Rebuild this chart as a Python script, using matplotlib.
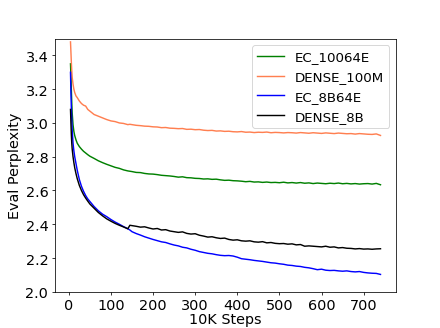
import matplotlib
matplotlib.use("Agg")
import matplotlib.pyplot as plt

# x positions (units of 10K steps)
steps = [4, 5, 6, 7, 8, 10, 12, 14, 17, 20, 25, 30, 35, 40, 45, 50,
         60, 70, 80, 90, 100, 110, 120, 130, 140, 145] + list(range(150, 741, 10))

ec_10064e = [3.35, 3.28, 3.20, 3.12, 3.06, 2.99, 2.95, 2.925, 2.90, 2.88, 2.86, 2.845, 2.832, 2.822, 2.812, 2.803,
             2.79, 2.776, 2.765, 2.755, 2.746, 2.737, 2.731, 2.722, 2.716, 2.714,
             2.712, 2.707, 2.706, 2.701, 2.698, 2.697, 2.694, 2.69, 2.688, 2.686,
             2.683, 2.679, 2.681, 2.676, 2.675, 2.672, 2.671, 2.668, 2.669, 2.666,
             2.667, 2.663, 2.66, 2.661, 2.658, 2.657, 2.655, 2.652, 2.654, 2.65,
             2.651, 2.648, 2.65, 2.647, 2.648, 2.646, 2.649, 2.645, 2.647, 2.644,
             2.647, 2.643, 2.645, 2.641, 2.644, 2.642, 2.64, 2.643, 2.641, 2.644,
             2.64, 2.642, 2.639, 2.641, 2.638, 2.64, 2.641, 2.638, 2.642, 2.634]

dense_100m = [3.48, 3.42, 3.36, 3.31, 3.27, 3.23, 3.20, 3.18, 3.16, 3.15, 3.13, 3.115, 3.105, 3.10, 3.08, 3.07,
              3.05, 3.04, 3.03, 3.02, 3.012, 3.008, 3.00, 2.997, 2.99, 2.992,
              2.99, 2.986, 2.984, 2.981, 2.98, 2.977, 2.976, 2.972, 2.973, 2.969,
              2.968, 2.966, 2.967, 2.962, 2.963, 2.96, 2.961, 2.957, 2.955, 2.956,
              2.952, 2.953, 2.95, 2.951, 2.948, 2.947, 2.949, 2.945, 2.946, 2.943,
              2.945, 2.944, 2.946, 2.942, 2.944, 2.943, 2.941, 2.943, 2.942, 2.940,
              2.943, 2.941, 2.939, 2.942, 2.940, 2.938, 2.941, 2.939, 2.937, 2.94,
              2.938, 2.936, 2.937, 2.934, 2.937, 2.935, 2.933, 2.932, 2.935, 2.926]

ec_8b64e = [3.30, 3.18, 3.09, 3.02, 2.96, 2.88, 2.835, 2.80, 2.76, 2.72, 2.665, 2.625, 2.595, 2.57, 2.55, 2.535,
            2.505, 2.48, 2.46, 2.445, 2.428, 2.413, 2.40, 2.386, 2.374, 2.366,
            2.356, 2.345, 2.336, 2.326, 2.318, 2.31, 2.303, 2.296, 2.292, 2.284,
            2.277, 2.272, 2.264, 2.26, 2.252, 2.246, 2.238, 2.233, 2.228, 2.225,
            2.22, 2.216, 2.214, 2.215, 2.212, 2.205, 2.196, 2.193, 2.19, 2.186,
            2.183, 2.18, 2.176, 2.172, 2.17, 2.166, 2.163, 2.158, 2.156, 2.152,
            2.15, 2.145, 2.142, 2.137, 2.131, 2.134, 2.128, 2.126, 2.127, 2.124,
            2.122, 2.124, 2.12, 2.118, 2.12, 2.115, 2.112, 2.11, 2.109, 2.103]

dense_8b = [3.08, 3.00, 2.93, 2.88, 2.845, 2.80, 2.765, 2.735, 2.70, 2.67, 2.63, 2.60, 2.575, 2.555, 2.537, 2.52,
            2.495, 2.47, 2.45, 2.432, 2.418, 2.405, 2.394, 2.384, 2.373, 2.394,
            2.392, 2.388, 2.383, 2.385, 2.378, 2.372, 2.375, 2.366, 2.368, 2.36,
            2.356, 2.352, 2.355, 2.346, 2.342, 2.344, 2.335, 2.33, 2.324, 2.326,
            2.32, 2.316, 2.318, 2.31, 2.306, 2.308, 2.302, 2.3, 2.302, 2.296,
            2.294, 2.297, 2.29, 2.292, 2.287, 2.285, 2.286, 2.282, 2.284, 2.278,
            2.28, 2.27, 2.272, 2.27, 2.268, 2.266, 2.27, 2.264, 2.266, 2.26,
            2.262, 2.258, 2.257, 2.254, 2.256, 2.253, 2.254, 2.252, 2.254, 2.255]

fig, ax = plt.subplots(figsize=(6.4, 4.785), dpi=68.75)

ax.plot(steps, ec_10064e, color='green', linewidth=1.5, label='EC_10064E')
ax.plot(steps, dense_100m, color='coral', linewidth=1.5, label='DENSE_100M')
ax.plot(steps, ec_8b64e, color='blue', linewidth=1.5, label='EC_8B64E')
ax.plot(steps, dense_8b, color='black', linewidth=1.5, label='DENSE_8B')

ax.set_ylim(2.0, 3.5)
ax.set_xticks([0, 100, 200, 300, 400, 500, 600, 700])
ax.tick_params(labelsize=15)
ax.set_xlabel('10K Steps', fontsize=15, labelpad=0)
ax.set_ylabel('Eval Perplexity', fontsize=15)
ax.legend(loc='upper right', fontsize=14)

fig.savefig('out.png', dpi=68.75)
